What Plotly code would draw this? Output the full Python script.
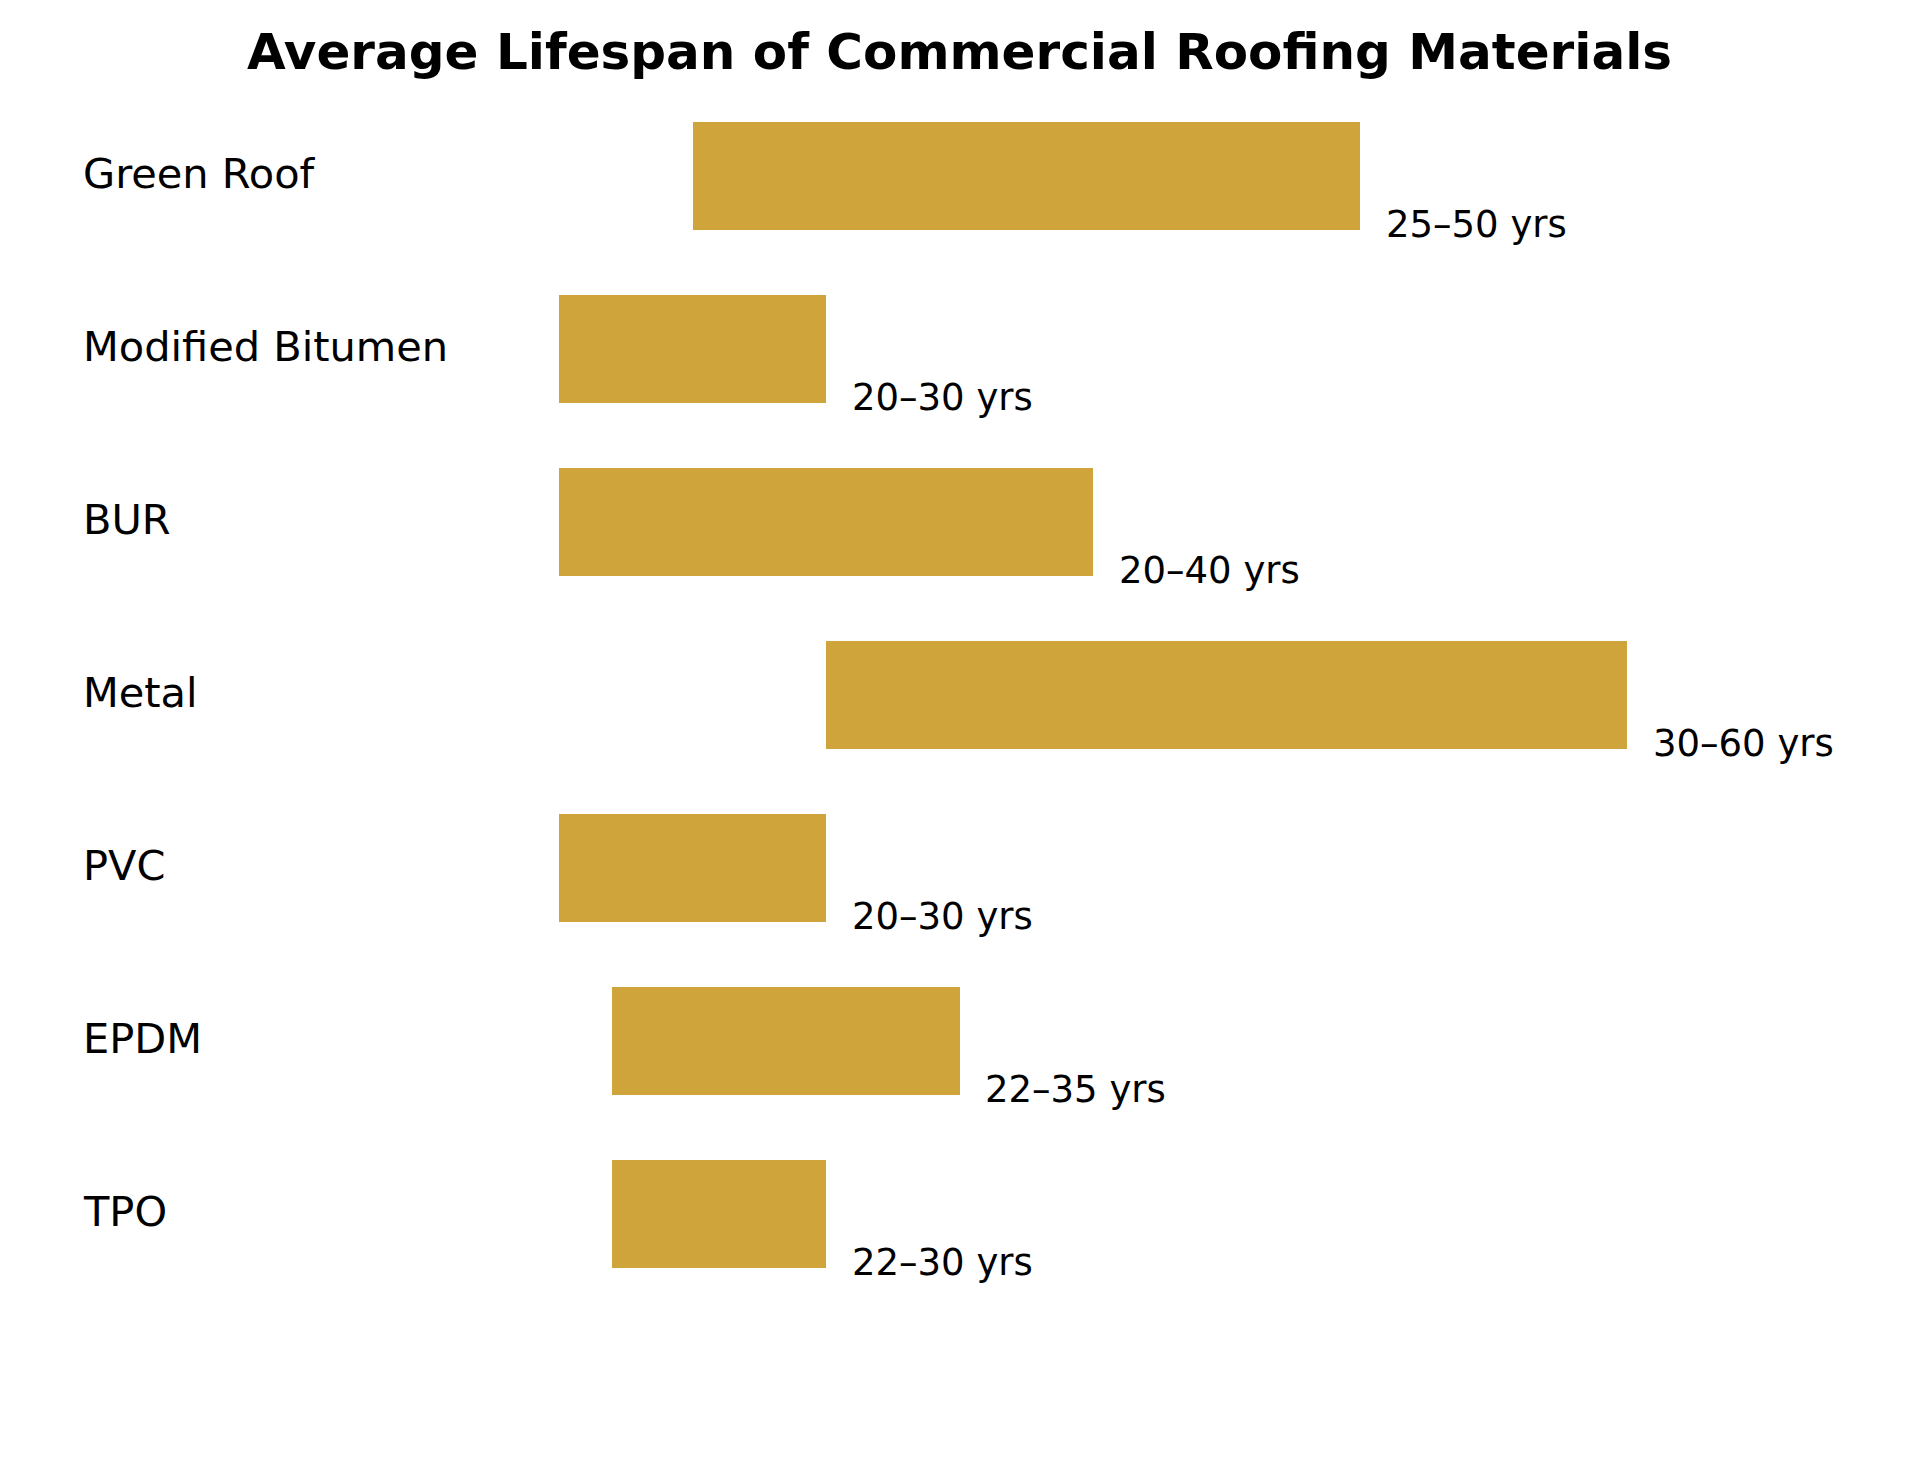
import plotly.graph_objects as go

materials = ["TPO", "EPDM", "PVC", "Metal", "BUR", "Modified Bitumen", "Green Roof"]
min_years = [22, 22, 20, 30, 20, 20, 25]
max_years = [30, 35, 30, 60, 40, 30, 50]
value_labels = [f"{lo}–{hi} yrs" for lo, hi in zip(min_years, max_years)]

BAR_COLOR = "#CFA43A"
FONT = "DejaVu Sans"

ypos = list(range(len(materials)))

fig = go.Figure()
fig.add_trace(go.Bar(
    y=ypos,
    x=[hi - lo for lo, hi in zip(min_years, max_years)],
    base=min_years,
    orientation="h",
    width=0.62,
    marker=dict(color=BAR_COLOR, line=dict(width=0)),
    hoverinfo="skip",
    showlegend=False,
))

annotations = []
for i, (name, hi, lab) in enumerate(zip(materials, max_years, value_labels)):
    annotations.append(dict(
        x=81 / 1919, xref="paper", y=i, yref="y",
        text=name, showarrow=False, xanchor="left", yanchor="middle",
        font=dict(family=FONT, size=41.5, color="black"), yshift=2,
    ))
    annotations.append(dict(
        x=hi + 1, xref="x", y=i - 0.28, yref="y",
        text=lab, showarrow=False, xanchor="left", yanchor="middle",
        font=dict(family=FONT, size=37, color="black"), xshift=-3,
    ))

fig.update_layout(
    width=1919, height=1470,
    margin=dict(l=0, r=0, t=0, b=0),
    paper_bgcolor="white", plot_bgcolor="white",
    title=dict(
        text="Average Lifespan of Commercial Roofing Materials",
        x=0.5, xanchor="center", y=1 - 51 / 1470, yanchor="middle",
        yref="container",
        font=dict(family=FONT, size=50, color="black", weight="bold"),
    ),
    xaxis=dict(range=[-0.936, 70.936], visible=False, fixedrange=True),
    yaxis=dict(range=[-1.480, 7.017], visible=False, fixedrange=True),
    annotations=annotations,
    bargap=0,
)

fig.write_html("out.html")
